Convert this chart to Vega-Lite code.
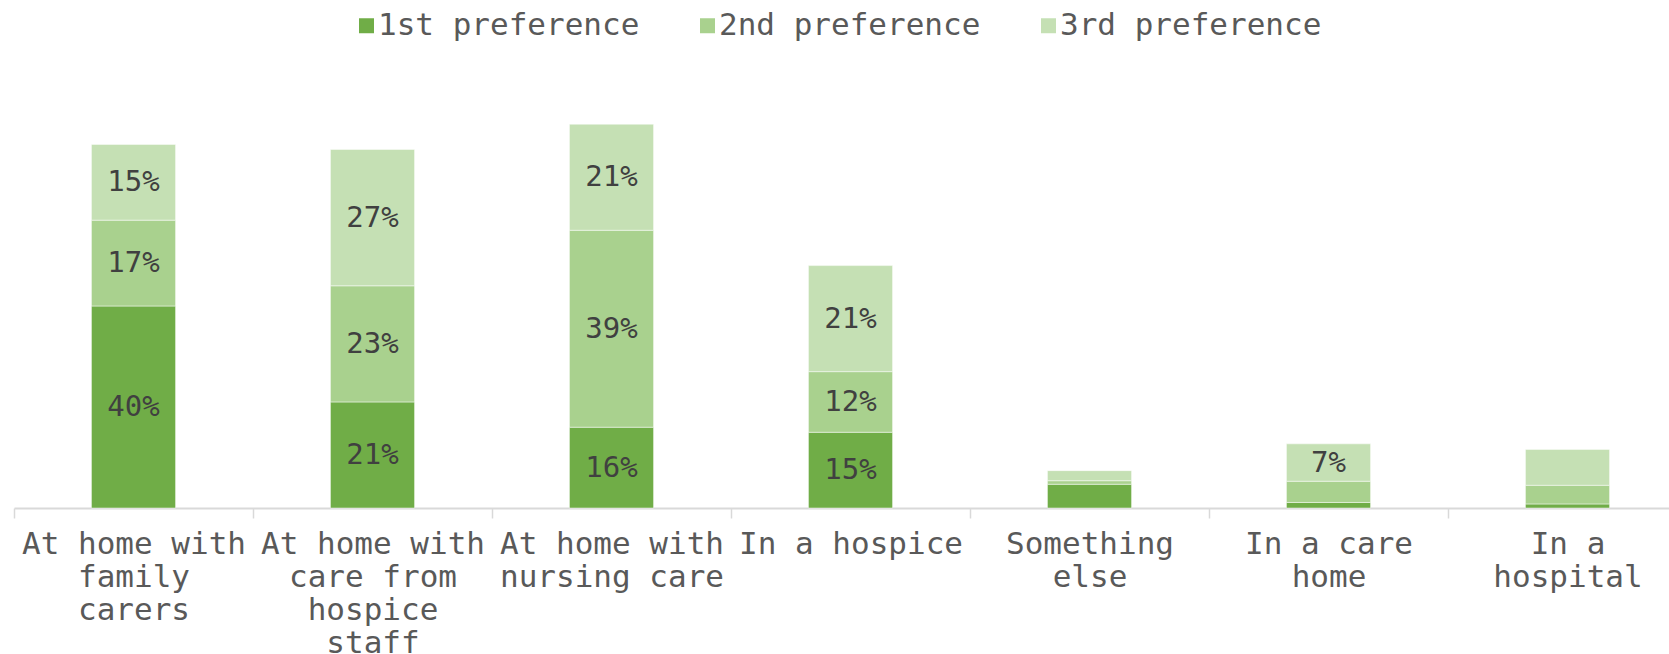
{
  "$schema": "https://vega.github.io/schema/vega-lite/v6.json",
  "width": 1673,
  "height": 505,
  "padding": {"left": 13, "top": 3, "right": 0, "bottom": 0},
  "config": {
    "view": {"stroke": null},
    "font": "DejaVu Sans Mono"
  },
  "data": {
    "values": [
      {"place": "At home with family carers", "series": "1st preference", "value": 40, "label": "40%"},
      {"place": "At home with family carers", "series": "2nd preference", "value": 17, "label": "17%"},
      {"place": "At home with family carers", "series": "3rd preference", "value": 15, "label": "15%"},
      {"place": "At home with care from hospice staff", "series": "1st preference", "value": 21, "label": "21%"},
      {"place": "At home with care from hospice staff", "series": "2nd preference", "value": 23, "label": "23%"},
      {"place": "At home with care from hospice staff", "series": "3rd preference", "value": 27, "label": "27%"},
      {"place": "At home with nursing care", "series": "1st preference", "value": 16, "label": "16%"},
      {"place": "At home with nursing care", "series": "2nd preference", "value": 39, "label": "39%"},
      {"place": "At home with nursing care", "series": "3rd preference", "value": 21, "label": "21%"},
      {"place": "In a hospice", "series": "1st preference", "value": 15, "label": "15%"},
      {"place": "In a hospice", "series": "2nd preference", "value": 12, "label": "12%"},
      {"place": "In a hospice", "series": "3rd preference", "value": 21, "label": "21%"},
      {"place": "Something else", "series": "1st preference", "value": 4.7, "label": ""},
      {"place": "Something else", "series": "2nd preference", "value": 0.7, "label": ""},
      {"place": "Something else", "series": "3rd preference", "value": 2.0, "label": ""},
      {"place": "In a care home", "series": "1st preference", "value": 1.1, "label": ""},
      {"place": "In a care home", "series": "2nd preference", "value": 4.2, "label": ""},
      {"place": "In a care home", "series": "3rd preference", "value": 7.4, "label": "7%"},
      {"place": "In a hospital", "series": "1st preference", "value": 0.8, "label": ""},
      {"place": "In a hospital", "series": "2nd preference", "value": 3.7, "label": ""},
      {"place": "In a hospital", "series": "3rd preference", "value": 7.1, "label": ""}
    ]
  },
  "encoding": {
    "x": {
      "field": "place",
      "type": "nominal",
      "sort": null,
      "scale": {"paddingInner": 0, "paddingOuter": 0},
      "axis": {
        "title": null,
        "labelAngle": 0,
        "labelFont": "DejaVu Sans Mono",
        "labelFontSize": 31,
        "labelColor": "#595959",
        "labelLimit": 600,
        "labelOverlap": false,
        "labelFlush": false,
        "labelBound": false,
        "labelPadding": 11,
        "labelLineHeight": 33,
        "labelBaseline": "top",
        "labelExpr": "{'At home with family carers':['At home with','family','carers'],'At home with care from hospice staff':['At home with','care from','hospice','staff'],'At home with nursing care':['At home with','nursing care'],'In a hospice':['In a hospice'],'Something else':['Something','else'],'In a care home':['In a care','home'],'In a hospital':['In a','hospital']}[datum.label]",
        "tickBand": "extent",
        "tickSize": 10,
        "tickColor": "#d9d9d9",
        "tickWidth": 1.5,
        "domainColor": "#d9d9d9",
        "domainWidth": 2,
        "grid": false
      }
    }
  },
  "layer": [
    {
      "mark": {"type": "bar", "width": {"band": 0.352}, "stroke": "#ffffff", "strokeWidth": 0.8, "strokeOpacity": 0.6},
      "encoding": {
        "y": {"field": "value", "type": "quantitative", "stack": "zero", "scale": {"domain": [0, 100], "nice": false}, "axis": null},
        "order": {"field": "series", "sort": "ascending"},
        "color": {
          "field": "series",
          "type": "nominal",
          "scale": {"domain": ["1st preference", "2nd preference", "3rd preference"], "range": ["#70AD47", "#A9D18E", "#C5E0B4"]},
          "legend": {
            "title": null,
            "orient": "none",
            "direction": "horizontal",
            "legendX": 337,
            "legendY": 7,
            "padding": 0,
            "symbolType": "square",
            "symbolSize": 225,
            "symbolStrokeWidth": 0,
            "symbolOpacity": 1,
            "labelFont": "DejaVu Sans Mono",
            "labelFontSize": 31,
            "labelColor": "#595959",
            "labelOffset": -4,
            "labelLimit": 600,
            "columnPadding": 52
          }
        }
      }
    },
    {
      "mark": {"type": "text", "font": "DejaVu Sans Mono", "fontSize": 29, "color": "#404040", "baseline": "middle", "align": "center"},
      "encoding": {
        "y": {"field": "value", "type": "quantitative", "stack": "zero", "bandPosition": 0.5},
        "order": {"field": "series", "sort": "ascending"},
        "detail": {"field": "series"},
        "text": {"field": "label"}
      }
    }
  ]
}
